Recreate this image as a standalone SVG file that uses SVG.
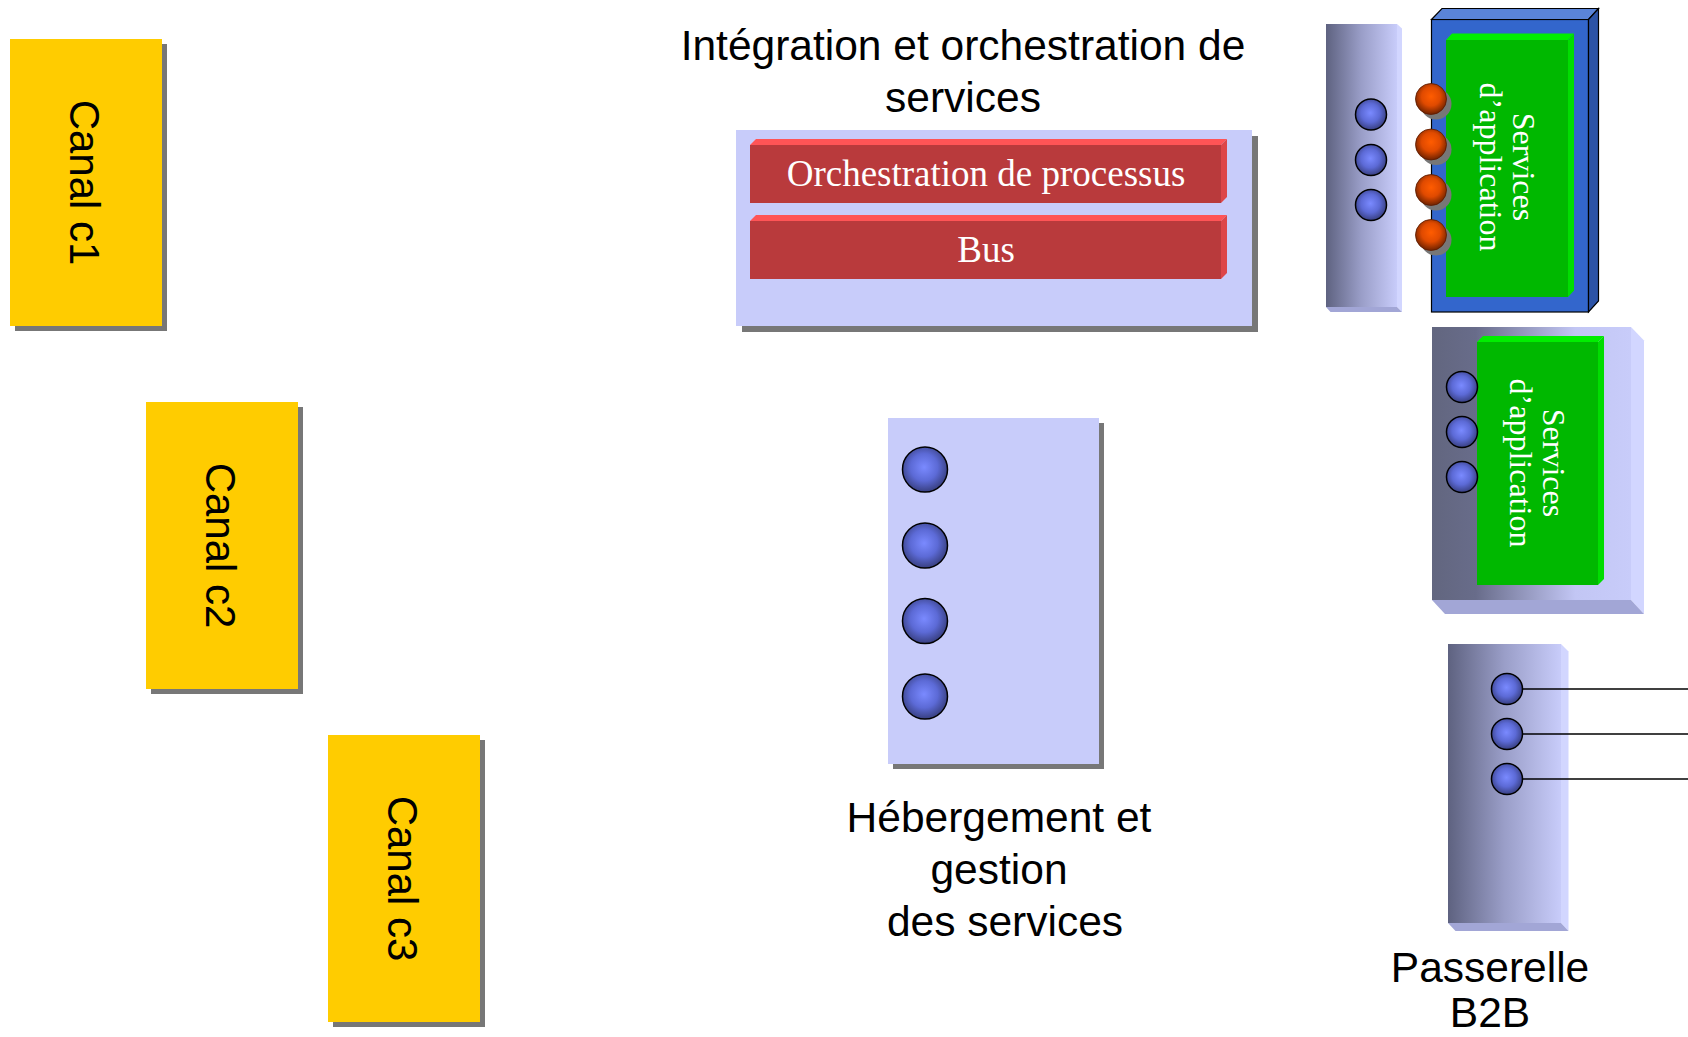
<svg xmlns="http://www.w3.org/2000/svg" width="1688" height="1037" viewBox="0 0 1688 1037">
<defs>
<style>
.sans{font-family:"Liberation Sans",Arial,sans-serif;fill:#000}
.serifw{font-family:"Liberation Serif","Times New Roman",serif;fill:#fff}
.shadow{fill:#777777}
.canal{fill:#ffcc00}
.lav{fill:#c8ccfa}
.redface{fill:#b93a3c}
.redtop{fill:#ff5456}
.redside{fill:#dd4648}
.grnface{fill:#00b800}
.grntop{fill:#00ee00}
.grnside{fill:#00dd00}
.sideR{fill:#d2d6ff}
.sideB{fill:#a2a6d6}
.bport{fill:url(#gBlue);stroke:#000;stroke-width:1.5}
.oport{fill:url(#gOrange);stroke:#5a1a00;stroke-width:0.8}
.conn{stroke:#000;stroke-width:1.5;fill:none}
</style>
<radialGradient id="gBlue" cx="0.48" cy="0.45" r="0.55">
<stop offset="0" stop-color="#7a8aff"/>
<stop offset="0.55" stop-color="#5c6ad6"/>
<stop offset="1" stop-color="#383f80"/>
</radialGradient>
<radialGradient id="gOrange" cx="0.5" cy="0.42" r="0.55">
<stop offset="0" stop-color="#ff5c00"/>
<stop offset="0.55" stop-color="#e04a00"/>
<stop offset="1" stop-color="#7a2600"/>
</radialGradient>
<linearGradient id="gBar" x1="0" y1="0" x2="1" y2="0">
<stop offset="0" stop-color="#5e6280"/>
<stop offset="0.5" stop-color="#9a9ec8"/>
<stop offset="1" stop-color="#c8ccfa"/>
</linearGradient>
<linearGradient id="gBox" x1="0" y1="0" x2="1" y2="0">
<stop offset="0" stop-color="#62667f"/>
<stop offset="0.22" stop-color="#686c8a"/>
<stop offset="0.72" stop-color="#c2c6f4"/>
<stop offset="1" stop-color="#c8ccfa"/>
</linearGradient>
</defs>
<rect width="1688" height="1037" fill="#fff"/>

<g id="canal-c1">
<rect class="shadow" x="15" y="44" width="152" height="287"/>
<rect class="canal" x="10" y="39" width="152" height="287"/>
<text class="sans" font-size="42" text-anchor="middle" transform="translate(70,182.5) rotate(90)">Canal c1</text>
</g>
<g id="canal-c2">
<rect class="shadow" x="151" y="407" width="152" height="287"/>
<rect class="canal" x="146" y="402" width="152" height="287"/>
<text class="sans" font-size="42" text-anchor="middle" transform="translate(206,545.5) rotate(90)">Canal c2</text>
</g>
<g id="canal-c3">
<rect class="shadow" x="333" y="740" width="152" height="287"/>
<rect class="canal" x="328" y="735" width="152" height="287"/>
<text class="sans" font-size="42" text-anchor="middle" transform="translate(388,878.5) rotate(90)">Canal c3</text>
</g>

<g id="integration">
<text class="sans" font-size="42.5" text-anchor="middle" x="963" y="60">Intégration et orchestration de</text>
<text class="sans" font-size="42.5" text-anchor="middle" x="963" y="112">services</text>
<rect class="shadow" x="742" y="136" width="516" height="196"/>
<rect class="lav" x="736" y="130" width="516" height="196"/>
<g id="orchestration">
<rect class="redface" x="750" y="145" width="471" height="58"/>
<polygon class="redtop" points="750,145 756,139 1227,139 1221,145"/>
<polygon class="redside" points="1221,145 1227,139 1227,197 1221,203"/>
<text class="serifw" font-size="37" text-anchor="middle" x="986" y="186">Orchestration de processus</text>
</g>
<g id="bus">
<rect class="redface" x="750" y="221" width="471" height="58"/>
<polygon class="redtop" points="750,221 756,215 1227,215 1221,221"/>
<polygon class="redside" points="1221,221 1227,215 1227,273 1221,279"/>
<text class="serifw" font-size="37" text-anchor="middle" x="986" y="262">Bus</text>
</g>
</g>

<g id="hebergement">
<rect class="shadow" x="893" y="423" width="211" height="346"/>
<rect class="lav" x="888" y="418" width="211" height="346"/>
<circle class="bport" cx="925" cy="469.5" r="22.5"/>
<circle class="bport" cx="925" cy="545.5" r="22.5"/>
<circle class="bport" cx="925" cy="621" r="22.5"/>
<circle class="bport" cx="925" cy="696.5" r="22.5"/>
<text class="sans" font-size="42.5" text-anchor="middle" x="999" y="832">Hébergement et</text>
<text class="sans" font-size="42.5" text-anchor="middle" x="999" y="884">gestion</text>
<text class="sans" font-size="42.5" text-anchor="middle" x="1005" y="936">des services</text>
</g>

<g id="adaptateur-haut">
<rect x="1326" y="24" width="71" height="283" fill="url(#gBar)"/>
<polygon class="sideR" points="1397,24 1402,28.5 1402,312 1397,307"/>
<polygon class="sideB" points="1326,307 1397,307 1402,312 1330.5,312"/>
<circle class="bport" cx="1371" cy="114.5" r="15.5"/>
<circle class="bport" cx="1371" cy="160" r="15.5"/>
<circle class="bport" cx="1371" cy="205" r="15.5"/>
</g>

<g id="services-application-1">
<rect x="1431.5" y="19.5" width="157" height="292.5" fill="#3366cc" stroke="#000" stroke-width="1.2"/>
<polygon points="1431.5,19.5 1442,8.5 1598.5,8.5 1588.5,19.5" fill="#5a84d8" stroke="#000" stroke-width="1.2"/>
<polygon points="1588.5,19.5 1598.5,8.5 1598.5,301 1588.5,312" fill="#2c53a6" stroke="#000" stroke-width="1.2"/>
<rect class="grnface" x="1446" y="40" width="122" height="257"/>
<polygon class="grntop" points="1446,40 1452,33.5 1574,33.5 1568,40"/>
<polygon class="grnside" points="1568,40 1574,33.5 1574,290.5 1568,297"/>
<text class="serifw" font-size="32" text-anchor="middle" transform="translate(1513,167) rotate(90)">Services</text>
<text class="serifw" font-size="32" text-anchor="middle" transform="translate(1480,167) rotate(90)">d’application</text>
<circle class="shadow" cx="1436" cy="104" r="15.5"/>
<circle class="shadow" cx="1436" cy="149.5" r="15.5"/>
<circle class="shadow" cx="1436" cy="195" r="15.5"/>
<circle class="shadow" cx="1436" cy="240" r="15.5"/>
<circle class="oport" cx="1431" cy="99" r="15.5"/>
<circle class="oport" cx="1431" cy="144.5" r="15.5"/>
<circle class="oport" cx="1431" cy="190" r="15.5"/>
<circle class="oport" cx="1431" cy="235" r="15.5"/>
</g>

<g id="services-application-2">
<rect x="1432" y="327" width="199" height="273" fill="url(#gBox)"/>
<polygon class="sideR" points="1631,327 1644,340.5 1644,614 1631,600"/>
<polygon class="sideB" points="1432,600 1631,600 1644,614 1445,614"/>
<rect class="grnface" x="1477" y="342" width="121" height="243"/>
<polygon class="grntop" points="1477,342 1483,336 1604,336 1598,342"/>
<polygon class="grnside" points="1598,342 1604,336 1604,579 1598,585"/>
<circle class="bport" cx="1462" cy="387" r="15.5"/>
<circle class="bport" cx="1462" cy="432" r="15.5"/>
<circle class="bport" cx="1462" cy="477" r="15.5"/>
<text class="serifw" font-size="32" text-anchor="middle" transform="translate(1543,463) rotate(90)">Services</text>
<text class="serifw" font-size="32" text-anchor="middle" transform="translate(1510,463) rotate(90)">d’application</text>
</g>

<g id="passerelle-b2b">
<rect x="1448" y="644" width="113" height="279" fill="url(#gBar)"/>
<polygon class="sideR" points="1561,644 1568.5,651.5 1568.5,931 1561,923"/>
<polygon class="sideB" points="1448,923 1561,923 1568.5,931 1455.5,931"/>
<text class="sans" font-size="42.5" text-anchor="middle" x="1490" y="982">Passerelle</text>
<text class="sans" font-size="42.5" text-anchor="middle" x="1490" y="1027">B2B</text>
</g>

<g id="connectors">
<line class="conn" x1="1522" y1="689" x2="1688" y2="689"/>
<line class="conn" x1="1522" y1="734" x2="1688" y2="734"/>
<line class="conn" x1="1522" y1="779" x2="1688" y2="779"/>
</g>

<g id="passerelle-ports">
<circle class="bport" cx="1507" cy="689" r="15.5"/>
<circle class="bport" cx="1507" cy="734" r="15.5"/>
<circle class="bport" cx="1507" cy="779" r="15.5"/>
</g>
</svg>
